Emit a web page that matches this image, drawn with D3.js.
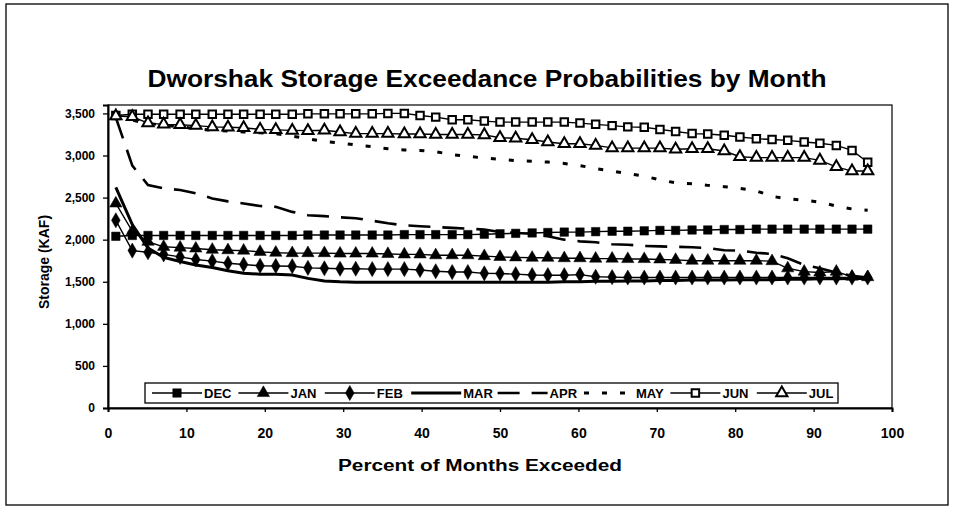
<!DOCTYPE html>
<html>
<head>
<meta charset="utf-8">
<script src="https://cdn.jsdelivr.net/npm/d3@7"></script>
<style>
  body { margin: 0; background: #fff; }
  text { font-family: "Liberation Sans", Arial, sans-serif; font-weight: bold; fill: #000; }
</style>
</head>
<body>
<div id="chart"></div>
<script>
// percent of months exceeded (x positions of each point)
var pct = [1.0, 3.1, 5.1, 7.1, 9.2, 11.2, 13.3, 15.3, 17.3, 19.4, 21.4, 23.5,
  25.5, 27.6, 29.6, 31.6, 33.7, 35.7, 37.8, 39.8, 41.8, 43.9, 45.9, 48.0,
  50.0, 52.0, 54.1, 56.1, 58.2, 60.2, 62.2, 64.3, 66.3, 68.4, 70.4, 72.4,
  74.5, 76.5, 78.6, 80.6, 82.7, 84.7, 86.7, 88.8, 90.8, 92.9, 94.9, 96.9];

// storage (KAF) by month
var dec = [2040, 2050, 2050, 2050, 2050, 2050, 2050, 2050, 2050, 2050, 2050, 2050,
  2055, 2055, 2055, 2055, 2055, 2055, 2060, 2060, 2060, 2060, 2060, 2065,
  2070, 2075, 2080, 2085, 2090, 2090, 2095, 2100, 2100, 2105, 2110, 2110,
  2115, 2115, 2120, 2120, 2125, 2125, 2125, 2125, 2125, 2125, 2125, 2125];
var jan = [2430, 2100, 1975, 1915, 1905, 1895, 1880, 1875, 1870, 1855, 1845, 1840,
  1840, 1840, 1835, 1835, 1835, 1830, 1825, 1825, 1815, 1815, 1815, 1805,
  1795, 1790, 1785, 1785, 1780, 1780, 1775, 1775, 1770, 1770, 1765, 1760,
  1750, 1750, 1750, 1750, 1750, 1745, 1660, 1620, 1610, 1620, 1560, 1555];
var feb = [2230, 1870, 1850, 1825, 1795, 1765, 1745, 1720, 1705, 1690, 1688, 1685,
  1665, 1660, 1655, 1655, 1650, 1650, 1650, 1640, 1625, 1615, 1615, 1600,
  1598, 1590, 1580, 1578, 1578, 1585, 1560, 1555, 1550, 1550, 1550, 1550,
  1550, 1550, 1550, 1550, 1550, 1550, 1550, 1550, 1550, 1550, 1550, 1550];
var mar = [2620, 2180, 1900, 1790, 1740, 1700, 1670, 1630, 1600, 1590, 1590, 1580,
  1540, 1510, 1500, 1495, 1495, 1495, 1495, 1495, 1495, 1495, 1495, 1495,
  1495, 1495, 1495, 1495, 1500, 1500, 1505, 1505, 1510, 1510, 1515, 1515,
  1520, 1520, 1520, 1525, 1525, 1525, 1530, 1530, 1535, 1535, 1540, 1540];
var apr = [3450, 2880, 2650, 2610, 2590, 2550, 2490, 2455, 2430, 2400, 2390, 2330,
  2290, 2280, 2265, 2255, 2225, 2195, 2170, 2160, 2150, 2140, 2130, 2120,
  2090, 2080, 2070, 2040, 2000, 1980, 1970, 1945, 1940, 1925, 1920, 1915,
  1910, 1900, 1875, 1870, 1845, 1830, 1780, 1700, 1660, 1610, 1570, 1550];
var may = [3470, 3420, 3380, 3360, 3340, 3320, 3300, 3290, 3280, 3270, 3260, 3230,
  3200, 3165, 3150, 3125, 3105, 3080, 3065, 3060, 3045, 3010, 2990, 2970,
  2955, 2940, 2932, 2922, 2905, 2880, 2845, 2815, 2785, 2755, 2710, 2675,
  2665, 2645, 2630, 2610, 2580, 2515, 2485, 2470, 2445, 2400, 2365, 2350];
var jun = [3475, 3490, 3490, 3490, 3490, 3490, 3490, 3490, 3490, 3490, 3490, 3490,
  3495, 3495, 3495, 3495, 3495, 3500, 3500, 3476, 3456, 3425, 3425, 3409,
  3397, 3397, 3397, 3397, 3397, 3385, 3370, 3355, 3340, 3335, 3310, 3285,
  3260, 3255, 3240, 3220, 3200, 3190, 3180, 3160, 3145, 3120, 3060, 2920];
var jul = [3470, 3460, 3385, 3370, 3365, 3355, 3340, 3335, 3330, 3310, 3305, 3298,
  3295, 3300, 3280, 3260, 3260, 3260, 3255, 3255, 3250, 3250, 3250, 3245,
  3211, 3205, 3187, 3160, 3140, 3140, 3120, 3090, 3088, 3088, 3088, 3075,
  3080, 3080, 3053, 2985, 2975, 2975, 2975, 2975, 2942, 2865, 2815, 2815];

var monthNames = ['DEC', 'JAN', 'FEB', 'MAR', 'APR', 'MAY', 'JUN', 'JUL'];
var monthValues = [dec, jan, feb, mar, apr, may, jun, jul];
var xTicks = [0, 10, 20, 30, 40, 50, 60, 70, 80, 90, 100];
var yTicks = [0, 500, 1000, 1500, 2000, 2500, 3000, 3500];

// how each month is drawn
var styles = {
  DEC: { width: 1.4, dash: null, symbol: d3.symbolSquare, size: 72, fill: '#000' },
  JAN: { width: 1.4, dash: null, symbol: d3.symbolTriangle, size: 66, fill: '#000' },
  FEB: { width: 1.4, dash: null, symbol: d3.symbolDiamond, size: 66, fill: '#000' },
  MAR: { width: 3, dash: null, symbol: null },
  APR: { width: 2.6, dash: '22,12', symbol: null },
  MAY: { width: 3, dash: '5,13', symbol: null },
  JUN: { width: 1.4, dash: null, symbol: d3.symbolSquare, size: 56, fill: '#fff' },
  JUL: { width: 1.4, dash: null, symbol: d3.symbolTriangle, size: 55, fill: '#fff' }
};

var W = 957, H = 512;
var margin = { top: 105, right: 65, bottom: 104, left: 108 };
var width = W - margin.left - margin.right;
var height = H - margin.top - margin.bottom;

var svg = d3.select('#chart').append('svg')
  .attr('width', W)
  .attr('height', H);

// outer frame of the scanned figure
svg.append('rect')
  .attr('x', 6).attr('y', 4)
  .attr('width', 942).attr('height', 501)
  .attr('fill', 'none')
  .attr('stroke', '#000')
  .attr('stroke-width', 1.3);

svg.append('text')
  .attr('x', 487).attr('y', 87)
  .attr('text-anchor', 'middle')
  .attr('textLength', 679)
  .attr('lengthAdjust', 'spacingAndGlyphs')
  .style('font-size', '23px')
  .text('Dworshak Storage Exceedance Probabilities by Month');

var g = svg.append('g').attr('transform', 'translate(' + margin.left + ',' + margin.top + ')');

var x = d3.scaleLinear().domain([0, 100]).range([0, width]);
var y = d3.scaleLinear().domain([0, 3600]).range([height, 0]);

// plot area box
g.append('rect')
  .attr('width', width).attr('height', height)
  .attr('fill', 'none')
  .attr('stroke', '#000')
  .attr('stroke-width', 1.2);

var xAxis = g.append('g')
  .attr('transform', 'translate(0,' + height + ')')
  .call(d3.axisBottom(x).tickValues(xTicks).tickSize(4).tickPadding(16));
xAxis.selectAll('text').style('font-size', '14px');

var yAxis = g.append('g')
  .call(d3.axisLeft(y).tickValues(yTicks).tickSize(5).tickPadding(8).tickFormat(d3.format(',')));
yAxis.selectAll('text').style('font-size', '12px');

[xAxis, yAxis].forEach(function (a) {
  a.select('.domain').attr('stroke', '#000').attr('stroke-width', 2);
  a.selectAll('.tick line').attr('stroke', '#000').attr('stroke-width', 1.3);
  a.selectAll('text').attr('fill', '#000').style('font-family', '"Liberation Sans", Arial, sans-serif');
});

svg.append('text')
  .attr('x', 480).attr('y', 471)
  .attr('text-anchor', 'middle')
  .attr('textLength', 284)
  .attr('lengthAdjust', 'spacingAndGlyphs')
  .style('font-size', '16px')
  .text('Percent of Months Exceeded');

svg.append('text')
  .attr('transform', 'translate(49,262) rotate(-90)')
  .attr('text-anchor', 'middle')
  .style('font-size', '14px')
  .text('Storage (KAF)');

var line = d3.line()
  .x(function (d) { return x(d.p); })
  .y(function (d) { return y(d.v); });

monthNames.forEach(function (m, i) {
  var s = styles[m];
  var pts = pct.map(function (p, j) { return { p: p, v: monthValues[i][j] }; });
  g.append('path')
    .datum(pts)
    .attr('fill', 'none')
    .attr('stroke', '#000')
    .attr('stroke-width', s.width)
    .attr('stroke-dasharray', s.dash)
    .attr('d', line);
  if (s.symbol) {
    g.selectAll('.pt-' + m)
      .data(pts)
      .enter().append('path')
      .attr('class', 'pt-' + m)
      .attr('transform', function (d) { return 'translate(' + x(d.p) + ',' + y(d.v) + ')'; })
      .attr('d', d3.symbol().type(s.symbol).size(s.size))
      .attr('fill', s.fill)
      .attr('stroke', '#000')
      .attr('stroke-width', s.fill === '#fff' ? 2 : 0.5);
  }
});

// legend
var legend = svg.append('g').attr('transform', 'translate(145,383)');
legend.append('rect')
  .attr('width', 693).attr('height', 20)
  .attr('fill', '#fff')
  .attr('stroke', '#000')
  .attr('stroke-width', 1.3);

monthNames.forEach(function (m, i) {
  var s = styles[m];
  var item = legend.append('g').attr('transform', 'translate(' + (7 + i * 86.4) + ',10)');
  item.append('line')
    .attr('x1', 0).attr('x2', 50)
    .attr('stroke', '#000')
    .attr('stroke-width', s.width)
    .attr('stroke-dasharray', s.dash);
  if (s.symbol) {
    item.append('path')
      .attr('transform', 'translate(25,0)')
      .attr('d', d3.symbol().type(s.symbol).size(s.size))
      .attr('fill', s.fill)
      .attr('stroke', '#000')
      .attr('stroke-width', s.fill === '#fff' ? 2 : 0.5);
  }
  item.append('text')
    .attr('x', 52).attr('y', 5)
    .style('font-size', '13px')
    .text(m);
});
</script>
</body>
</html>
